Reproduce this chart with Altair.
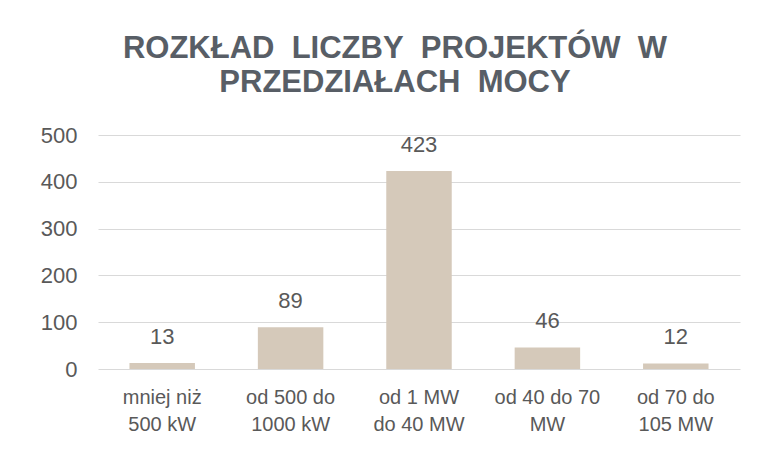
import altair as alt
import pandas as pd

categories = ["mniej niż\n500 kW", "od 500 do\n1000 kW", "od 1 MW\ndo 40 MW", "od 40 do 70\nMW", "od 70 do\n105 MW"]
values = [13, 89, 423, 46, 12]
y_ticks = [0, 100, 200, 300, 400, 500]

df = pd.DataFrame({"cat": categories, "val": values})

TXT = "#595959"
TITLE = "#585E66"
BAR = "#D5C9BA"

base = alt.Chart(df).encode(
    x=alt.X("cat:N", sort=categories, title=None,
            scale=alt.Scale(paddingInner=0.49, paddingOuter=0.245),
            axis=alt.Axis(labelAngle=0, labelFontSize=20, labelColor=TXT, labelFont="Liberation Sans",
                          labelExpr="split(datum.label, '\\n')", labelLineHeight=27,
                          labelPadding=18, ticks=False, domain=False, labelBaseline="top")),
    y=alt.Y("val:Q", title=None,
            scale=alt.Scale(domain=[0, 500], nice=False),
            axis=alt.Axis(values=y_ticks, labelFontSize=22, labelColor=TXT, labelFont="Liberation Sans",
                          labelPadding=21, ticks=False, domain=False, gridColor="#D9D9D9", gridWidth=1.2)),
)

bars = base.mark_bar(color=BAR)
labels = base.mark_text(dy=-26, fontSize=22, color=TXT, font="Liberation Sans").encode(text="val:Q")

chart = (bars + labels).properties(
    width=642, height=234,
    padding={"left": 90, "top": 127, "right": 17, "bottom": 75},
    autosize=alt.AutoSizeParams(type="none"),
    title=alt.TitleParams(
        text=["ROZKŁAD\u00a0\u00a0LICZBY\u00a0\u00a0PROJEKTÓW\u00a0\u00a0W", "PRZEDZIAŁACH\u00a0\u00a0MOCY"],
        fontSize=31, font="Liberation Sans", fontWeight="bold", color=TITLE,
        anchor="middle", frame="group", dx=-24, offset=25, lineHeight=34,
    ),
).configure(background="white").configure_view(stroke=None)

chart.save("out.html", embed_options={"renderer": "svg", "actions": False})
